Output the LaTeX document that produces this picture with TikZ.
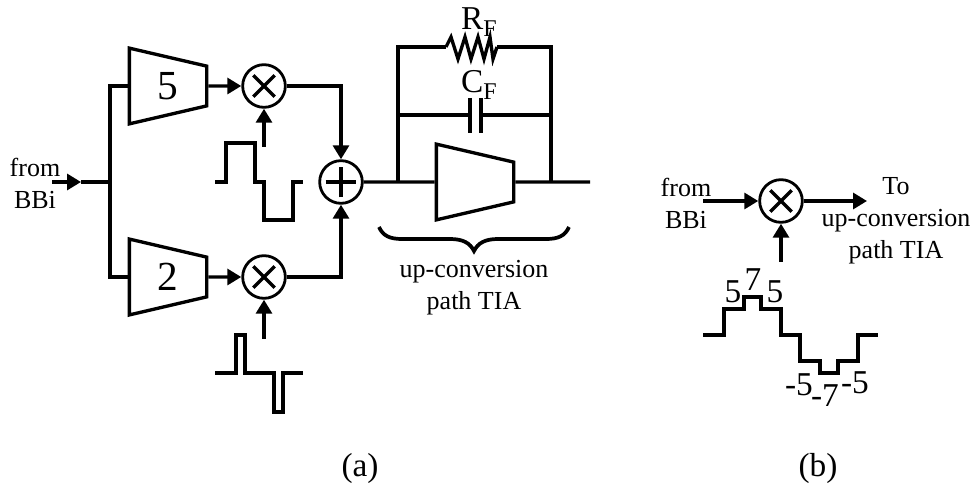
\documentclass[tikz,border=0pt]{standalone}
\usepackage{fontspec}
\setmainfont{Liberation Serif}
\usetikzlibrary{arrows.meta,shapes.geometric}
\newcommand{\subF}{\raisebox{-5pt}{\fontsize{18}{18}\selectfont F}}
\begin{document}
\begin{tikzpicture}[x=0.75pt, y=-0.75pt, every path/.style={line width=2.5pt}, line join=miter,
    >={Triangle[length=10.5pt,width=12pt]},
    amp/.style={draw, trapezium, shape border rotate=270, trapezium stretches=true, trapezium angle=59, minimum width=57pt, minimum height=58pt, inner sep=0pt, font=\fontsize{31}{31}\selectfont},
    mixer/.style={draw, circle, line width=2.1pt, minimum size=32pt, inner sep=0pt, path picture={\draw ([shift={(-8pt,-8pt)}]path picture bounding box.center) -- ([shift={(8pt,8pt)}]path picture bounding box.center); \draw ([shift={(-8pt,8pt)}]path picture bounding box.center) -- ([shift={(8pt,-8pt)}]path picture bounding box.center);}},
    adder/.style={draw, circle, line width=2.1pt, minimum size=32pt, inner sep=0pt, path picture={\draw ([xshift=-11.5pt]path picture bounding box.center) -- ([xshift=11.5pt]path picture bounding box.center); \draw ([yshift=-11.5pt]path picture bounding box.center) -- ([yshift=11.5pt]path picture bounding box.center);}},
    lbl/.style={align=center, inner sep=0pt, font=\fontsize{19.5}{24}\selectfont},
    big/.style={inner sep=0pt, font=\fontsize{25}{25}\selectfont}]
    \useasboundingbox (0,0) rectangle (972,488);

    % (a) input and branches
    \node[lbl] (fromA) at (35,183) {from\\BBi};
    \coordinate (inA) at (52,182);
    \coordinate (tipA) at (81,182);
    \coordinate (split) at (110,182);
    \node[amp] (amp5) at (168,86) {5};
    \node[amp] (amp2) at (168,277) {2};
    \node[mixer] (mix5) at (264,86) {};
    \node[mixer] (mix2) at (264,277) {};
    \node[adder] (sum) at (341,182) {};
    \draw[->] (inA) -- (tipA);
    \draw (tipA) -- (split);
    \draw (amp5.west) -| (split) |- (amp2.west);
    \draw[->] (amp5.east) -- (mix5);
    \draw[->] (amp2.east) -- (mix2);
    \draw[->] (mix5) -| (sum);
    \draw[->] (mix2) -| (sum);

    % (a) clock waveforms
    \coordinate (clk5) at (264,147);
    \coordinate (clk2) at (264,339);
    \draw[->] (clk5) -- (mix5);
    \draw[->] (clk2) -- (mix2);
    \draw (215,182) -- (226,182) -- (226,143) -- (255,143) -- (255,182) -- (264,182) -- (264,220) -- (293,220) -- (293,182) -- (303,182);
    \draw (215,373) -- (236,373) -- (236,335) -- (245,335) -- (245,373) -- (274,373) -- (274,412) -- (283,412) -- (283,373) -- (303,373);

    % (a) TIA
    \node[amp] (tia) at (475,182) {\phantom{5}};
    \coordinate (fbIn) at (398,182);
    \coordinate (fbOut) at (551,182);
    \coordinate (tiaEnd) at (590,182);
    \coordinate (resL) at (446,47);
    \coordinate (resR) at (497,47);
    \coordinate (capWireL) at (398,115);
    \coordinate (capWireR) at (551,115);
    \coordinate (capL) at (470,115);
    \coordinate (capR) at (481,115);
    \draw (sum) -- (tia.west);
    \draw (tia.east) -- (tiaEnd);
    \draw (fbIn) |- (resL);
    \draw (resR) -| (fbOut);
    \draw (resL) -- (451,37) -- (458,59) -- (465,37) -- (471,59) -- (478,37) -- (484,59) -- (490,37) -- (493,59) -- (resR);
    \draw (capWireL) -- (capL);
    \draw (capR) -- (capWireR);
    \draw (capL |- 0,98) -- (capL |- 0,133);
    \draw (capR |- 0,98) -- (capR |- 0,133);
    \node[big] (rf) at (479,22) {R\subF};
    \node[big] (cf) at (479,85) {C\subF};
    \draw[line width=2.8pt] (379,227) .. controls (383,236) and (390,239) .. (402,239) -- (450,239) .. controls (463,239) and (470,243) .. (474,251) .. controls (478,243) and (485,239) .. (498,239) -- (546,239) .. controls (558,239) and (565,236) .. (569,227);
    \node[lbl] (tiaText) at (474,288) {up-conversion\\path TIA};
    \node[big] (capA) at (360,468) {(a)};

    % (b)
    \node[mixer] (mixB) at (781,201) {};
    \node[lbl] (fromB) at (686,203) {from\\BBi};
    \node[lbl] (toB) at (896,221) {To\\up-conversion\\path TIA};
    \coordinate (inB) at (703,201);
    \coordinate (outB) at (867,201);
    \coordinate (clkB) at (781,262);
    \draw[->] (inB) -- (mixB);
    \draw[->] (mixB) -- (outB);
    \draw[->] (clkB) -- (mixB);
    \draw (703,335) -- (724,335) -- (724,309) -- (744,309) -- (744,297) -- (761,297) -- (761,309) -- (781,309) -- (781,335) -- (800,335) -- (800,361) -- (820,361) -- (820,373) -- (838,373) -- (838,361) -- (858,361) -- (858,335) -- (878,335);
    \node[big] (up5a) at (733,292) {5};
    \node[big] (up7) at (753,280) {7};
    \node[big] (up5b) at (775,292) {5};
    \node[big] (dn5a) at (799,385) {-5};
    \node[big] (dn7) at (825,396) {-7};
    \node[big] (dn5b) at (855,383) {-5};
    \node[big] (capB) at (818,468) {(b)};
\end{tikzpicture}
\end{document}
